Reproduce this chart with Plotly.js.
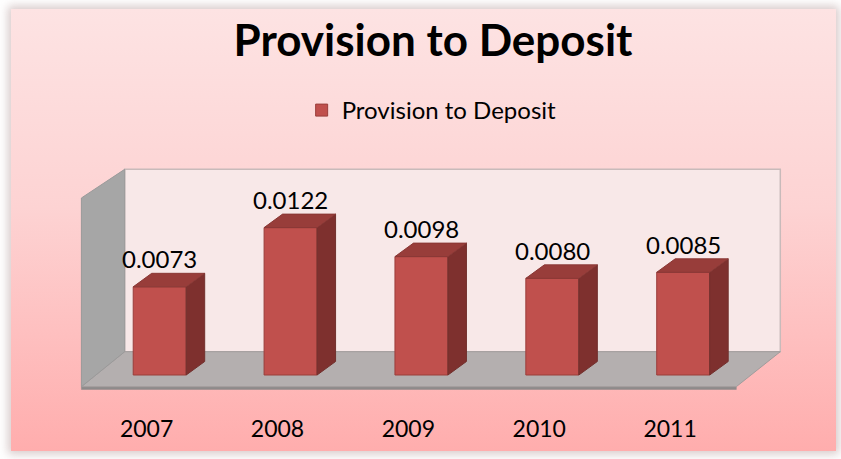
<!DOCTYPE html>
<html>
<head>
<meta charset="utf-8">
<script src="https://cdn.plot.ly/plotly-3.0.1.min.js"></script>
<style>
  html, body { margin:0; padding:0; background:#ffffff; width:841px; height:459px; overflow:hidden; }
  #bg { position:absolute; left:11px; top:9px; width:825px; height:442px;
        background: linear-gradient(to bottom, #fde3e3 0%, #fdd3d3 45%, #ffadad 100%);
        box-shadow: 0 0 9px 3px rgba(140,100,100,0.35); }
  #chart { position:absolute; left:0; top:0; width:841px; height:459px; }
</style>
</head>
<body>
<div id="bg"></div>
<div id="chart"></div>
<script>
// ---- data ----
const categories = ["2007", "2008", "2009", "2010", "2011"];
const values = [0.0073, 0.0122, 0.0098, 0.0080, 0.0085];
const seriesName = "Provision to Deposit";
const chartTitle = "Provision to Deposit";

// ---- scale helpers (pixels per data unit in the chosen layout) ----
const W = 841, H = 459;
const mL = 55.3, mR = 39.6, mT = 150, mB = 54;
const xRange = [-0.8, 4.9];
const yRange = [-(H - mB - 375) / 12080, (375 - mT) / 12080];
const pxX = (W - mL - mR) / (xRange[1] - xRange[0]);
const pxY = (H - mT - mB) / (yRange[1] - yRange[0]);
const toX = p => (p - (mL - xRange[0] * pxX)) / pxX;            // pixel -> data x
const toY = p => ((H - mB) - p) / pxY + yRange[0];              // pixel -> data y

const idx = categories.map((_, i) => i);
const barW = 53 / pxX;
const ddx = 18.5 / pxX, ddy = 13.5 / pxY;

// side faces and top faces built from the data values
const sideX = [], sideY = [], topX = [], topY = [];
idx.forEach((i) => {
  const v = values[i];
  const r = i + barW / 2, l = i - barW / 2;
  sideX.push(r, r + ddx, r + ddx, r, r, null);
  sideY.push(0, ddy, v + ddy, v, 0, null);
  topX.push(l, l + ddx, r + ddx, r, l, null);
  topY.push(v, v + ddy, v + ddy, v, v, null);
});

const traces = [
  { type: "bar", x: idx, y: values, width: barW, name: seriesName,
    marker: { color: "#C0504D", line: { color: "#9A3E3B", width: 1 } },
    hoverinfo: "skip", showlegend: true },
  { type: "scatter", mode: "lines", x: sideX, y: sideY, fill: "toself",
    fillcolor: "#7E302E", line: { color: "#72302d", width: 1 }, showlegend: false, hoverinfo: "skip" },
  { type: "scatter", mode: "lines", x: topX, y: topY, fill: "toself",
    fillcolor: "#983D3A", line: { color: "#8a3835", width: 1 }, showlegend: false, hoverinfo: "skip" }
];

// decorative 3D walls (pixel geometry converted into data space)
const P = (pts) => "M " + pts.map(p => toX(p[0]) + "," + toY(p[1])).join(" L ") + " Z";
const shapes = [
  { type: "path", xref: "x", yref: "y", layer: "below",
    path: P([[125,169.3],[780.7,169.3],[780.7,351.7],[125,351.7]]),
    fillcolor: "#F8E8E8", line: { color: "#C8BABA", width: 1.5 } },
  { type: "path", xref: "x", yref: "y", layer: "below",
    path: P([[81.7,386.7],[736.7,386.7],[736.7,389.5],[81.7,389.5]]),
    fillcolor: "#8E8A8A", line: { color: "#8E8A8A", width: 0.5 } },
  { type: "path", xref: "x", yref: "y", layer: "below",
    path: P([[125,351.7],[780.7,351.7],[736.7,386.7],[81.7,386.7]]),
    fillcolor: "#B4AFAF", line: { color: "#A09C9C", width: 1 } },
  { type: "path", xref: "x", yref: "y", layer: "below",
    path: P([[125,169.3],[125,351.7],[81.7,386.7],[81.7,198]]),
    fillcolor: "#A6A6A6", line: { color: "#9a9a9a", width: 1 } }
];

const annotations = idx.map(i => ({
  x: i, y: values[i], xref: "x", yref: "y", text: values[i].toFixed(4),
  showarrow: false, yanchor: "middle", yshift: 28,
  font: { family: "Lato, 'Open Sans', sans-serif", size: 24, color: "#000000" }
}));

const layout = {
  width: W, height: H,
  margin: { l: mL, r: mR, t: mT, b: mB, pad: 0 },
  paper_bgcolor: "rgba(0,0,0,0)", plot_bgcolor: "rgba(0,0,0,0)",
  title: { text: "<b>" + chartTitle + "</b>", x: 433 / W, xref: "container", xanchor: "center",
           y: 1 - 41 / H, yref: "container", yanchor: "middle",
           font: { family: "Lato, 'Open Sans', sans-serif", size: 44, color: "#000000" } },
  showlegend: true,
  legend: { orientation: "h", x: (432 - mL) / (W - mL - mR), xanchor: "center",
            y: 1 + (mT - 88) / (H - mT - mB), yanchor: "top",
            font: { family: "Lato, 'Open Sans', sans-serif", size: 24, color: "#000000" },
            bgcolor: "rgba(0,0,0,0)", itemwidth: 30 },
  xaxis: { range: xRange, showgrid: false, zeroline: false, showline: false,
           tickmode: "array", tickvals: idx.map(i => i - 0.1), ticktext: categories,
           ticks: "outside", ticklen: 3, tickcolor: "rgba(0,0,0,0)",
           tickfont: { family: "Lato, 'Open Sans', sans-serif", size: 23, color: "#000000" },
           fixedrange: true },
  yaxis: { range: yRange, visible: false, fixedrange: true },
  bargap: 0,
  shapes: shapes,
  annotations: annotations
};

Plotly.newPlot("chart", traces, layout, { displayModeBar: false, staticPlot: true });
</script>
</body>
</html>
